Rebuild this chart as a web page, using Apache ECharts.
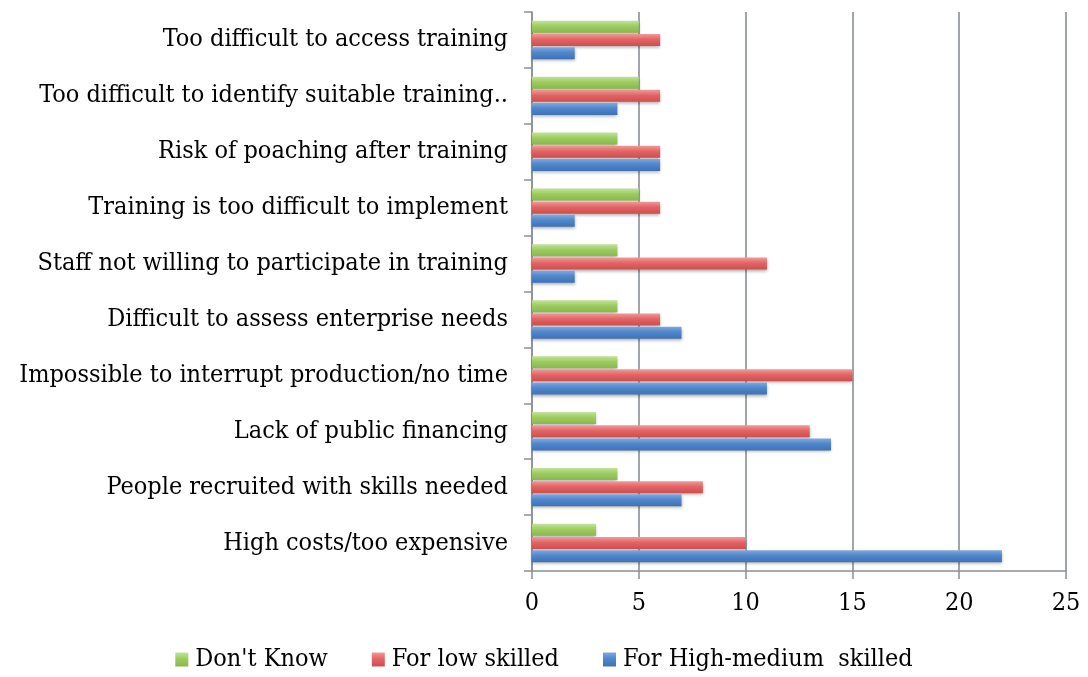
<!DOCTYPE html>
<html>
<head>
<meta charset="utf-8">
<script src="https://cdn.jsdelivr.net/npm/echarts@6/dist/echarts.min.js"></script>
<style>
html,body{margin:0;padding:0;background:#fff;}
#chart{width:1088px;height:677px;}
</style>
</head>
<body>
<div id="chart"></div>
<script>
const categories = [
  "High costs/too expensive",
  "People recruited with skills needed",
  "Lack of public financing",
  "Impossible to interrupt production/no time",
  "Difficult to assess enterprise needs",
  "Staff not willing to participate in training",
  "Training is too difficult to implement",
  "Risk of poaching after training",
  "Too difficult to identify suitable training..",
  "Too difficult to access training"
];
const dontKnow = [3, 4, 3, 4, 4, 4, 5, 4, 5, 5];
const lowSkilled = [10, 8, 13, 15, 6, 11, 6, 6, 6, 6];
const highMedium = [22, 7, 14, 11, 7, 2, 2, 6, 4, 2];
const xTicks = [0, 5, 10, 15, 20, 25];

const FONT = "'DejaVu Serif Condensed', 'DejaVu Serif', serif";
const FS = 25;

function grad(top, mid, bot) {
  return new echarts.graphic.LinearGradient(0, 0, 0, 1, [
    {offset: 0, color: top},
    {offset: 0.45, color: mid},
    {offset: 1, color: bot}
  ]);
}

const chart = echarts.init(document.getElementById('chart'));
chart.setOption({
  backgroundColor: '#fff',
  animation: false,
  grid: {left: 532, right: 22, top: 12, bottom: 106, containLabel: false},
  legend: {
    data: ["Don't Know", "For low skilled", "For High-medium  skilled"],
    bottom: 0,
    left: 'center',
    itemWidth: 13,
    itemHeight: 14,
    itemGap: 44,
    icon: 'rect',
    textStyle: {fontFamily: FONT, fontSize: FS, color: '#000', padding: [0, 0, 0, 2]}
  },
  xAxis: {
    type: 'value',
    min: xTicks[0],
    max: xTicks[xTicks.length - 1],
    interval: 5,
    axisLine: {show: true, lineStyle: {color: '#8a9096', width: 1.5}},
    axisTick: {show: true, length: 8, lineStyle: {color: '#8a9096', width: 1.5}},
    splitLine: {show: true, lineStyle: {color: '#80878e', width: 1.5}},
    axisLabel: {fontFamily: FONT, fontSize: FS, color: '#000', margin: 20}
  },
  yAxis: {
    type: 'category',
    data: categories,
    axisLine: {show: true, lineStyle: {color: '#8a9096', width: 1.5}},
    axisTick: {show: true, length: 8, lineStyle: {color: '#8a9096', width: 1.5}},
    axisLabel: {fontFamily: FONT, fontSize: FS, color: '#000', margin: 24}
  },
  series: [
    {
      name: "Don't Know",
      type: 'bar',
      data: dontKnow,
      barWidth: 12,
      barGap: '10%',
      itemStyle: {
        color: grad('#c3e29c', '#9dcc5e', '#88b84c'),
        shadowColor: 'rgba(0,0,0,0.3)', shadowBlur: 3, shadowOffsetY: 2
      }
    },
    {
      name: 'For low skilled',
      type: 'bar',
      data: lowSkilled,
      barWidth: 12,
      barGap: '10%',
      itemStyle: {
        color: grad('#f09a9a', '#e46464', '#cc4e4e'),
        shadowColor: 'rgba(0,0,0,0.3)', shadowBlur: 3, shadowOffsetY: 2
      }
    },
    {
      name: 'For High-medium  skilled',
      type: 'bar',
      data: highMedium,
      barWidth: 12,
      barGap: '10%',
      itemStyle: {
        color: grad('#7fa9de', '#4f86cc', '#3f72b4'),
        shadowColor: 'rgba(0,0,0,0.3)', shadowBlur: 3, shadowOffsetY: 2
      }
    }
  ]
});
</script>
</body>
</html>
